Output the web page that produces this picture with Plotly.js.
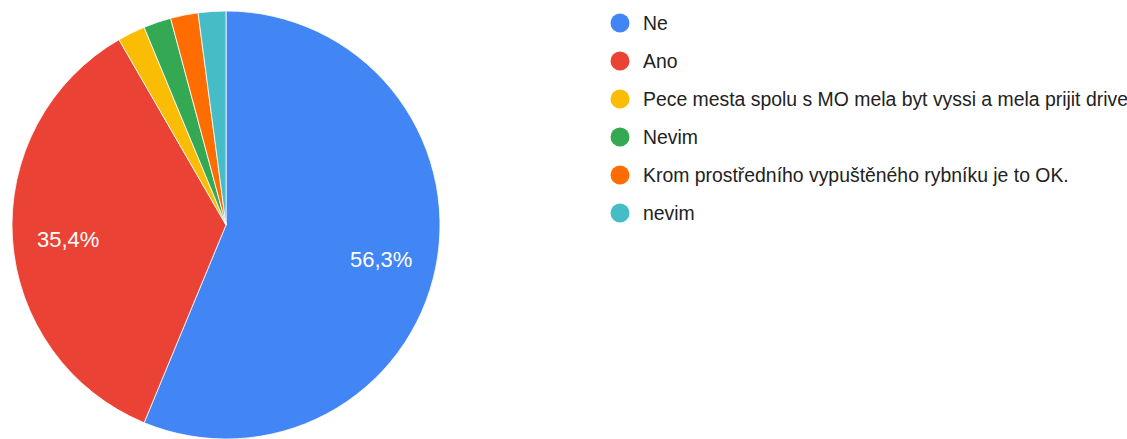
<!DOCTYPE html>
<html>
<head>
<meta charset="utf-8">
<script src="https://cdn.plot.ly/plotly-3.0.1.min.js"></script>
<style>html,body{margin:0;padding:0;background:#fff;}#chart{width:1127px;height:439px;}</style>
</head>
<body>
<div id="chart"></div>
<script>
const categories = ["Ne", "Ano", "Pece mesta spolu s MO mela byt vyssi a mela prijit drive", "Nevim", "Krom prostředního vypuštěného rybníku je to OK.", "nevim"];
const counts = [27, 17, 1, 1, 1, 1];
const colors = ["#4285F4", "#EA4335", "#FBBC04", "#34A853", "#FF6D01", "#46BDC6"];
const showPct = [true, true, false, false, false, false];

const W = 1127, H = 439;
const fontFam = "Liberation Sans, Arial, sans-serif";
const dom = {x: [11 / W, 441 / W], y: [0, 428 / H]};

const trace = {
  type: "pie",
  labels: categories,
  values: counts,
  sort: false,
  direction: "clockwise",
  rotation: 0,
  marker: {colors: colors, line: {color: "#ffffff", width: 0.8}},
  textinfo: "none",
  hoverinfo: "label+percent",
  domain: dom,
  showlegend: false
};

const annotations = [];
const shapes = [];

// percentage labels placed along each slice's bisector
const total = counts.reduce((a, b) => a + b, 0);
const cx = (dom.x[0] + dom.x[1]) / 2 * W;
const cy = (1 - (dom.y[0] + dom.y[1]) / 2) * H;
const R = Math.min((dom.x[1] - dom.x[0]) * W, (dom.y[1] - dom.y[0]) * H) / 2;
let cum = 0;
counts.forEach((v, i) => {
  const frac = v / total;
  const mid = (cum + frac / 2) * 2 * Math.PI;
  cum += frac;
  if (!showPct[i]) return;
  const d = 0.74 * R;
  const px = cx + Math.sin(mid) * d;
  const py = cy - Math.cos(mid) * d + 4;
  annotations.push({xref: "paper", yref: "paper", x: px / W, y: 1 - py / H,
    xanchor: "center", yanchor: "middle", showarrow: false,
    text: (frac * 100).toFixed(1).replace(".", ",") + "%",
    font: {family: fontFam, size: 22, color: "#ffffff"}});
});

const legX = 620, legY0 = 23, legGap = 38, r = 9.5;
categories.forEach((c, i) => {
  const y = legY0 + i * legGap;
  shapes.push({type: "circle", xref: "paper", yref: "paper",
    x0: (legX - r) / W, x1: (legX + r) / W, y0: 1 - (y + r) / H, y1: 1 - (y - r) / H,
    fillcolor: colors[i], line: {width: 0}});
  annotations.push({xref: "paper", yref: "paper", x: 641 / W, y: 1 - y / H,
    xanchor: "left", yanchor: "middle", showarrow: false, text: c,
    font: {family: fontFam, size: 19.4, color: "#222222"}});
});

const layout = {
  width: W, height: H,
  margin: {l: 0, r: 0, t: 0, b: 0},
  paper_bgcolor: "#ffffff",
  separators: ", ",
  showlegend: false,
  shapes: shapes,
  annotations: annotations
};

Plotly.newPlot("chart", [trace], layout, {displayModeBar: false, staticPlot: true});
</script>
</body>
</html>
